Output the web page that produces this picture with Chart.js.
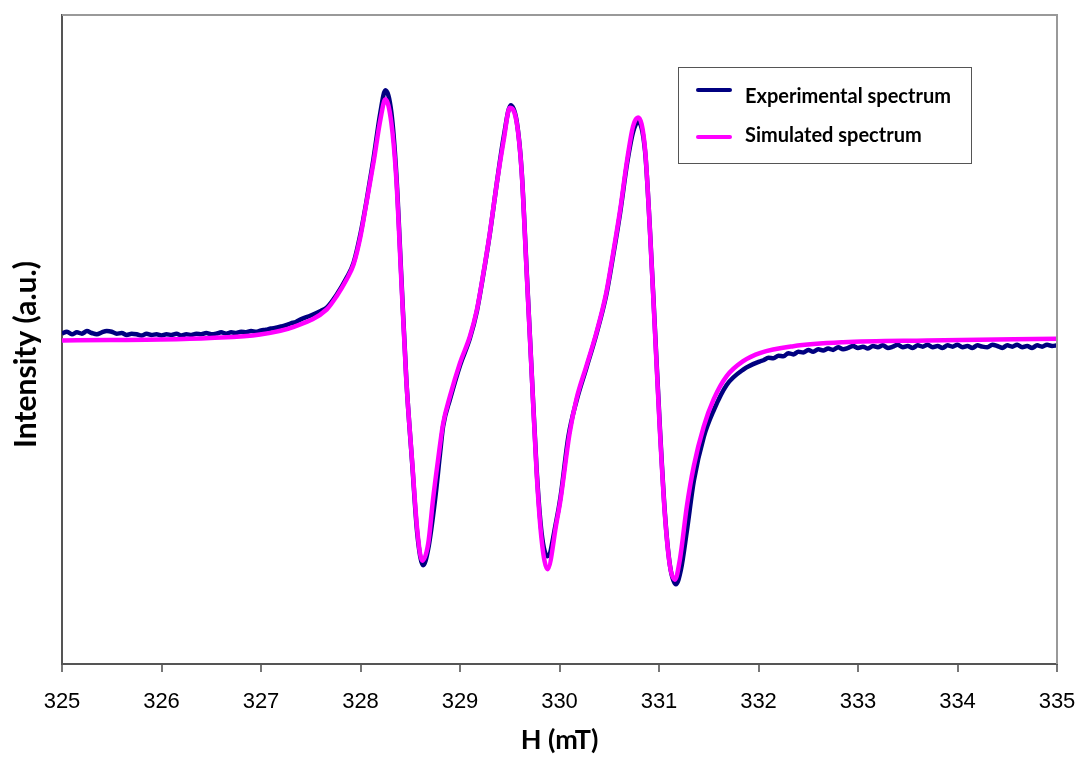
<!DOCTYPE html>
<html>
<head>
<meta charset="utf-8">
<title>EPR spectrum</title>
<script src="https://cdn.jsdelivr.net/npm/chart.js@4.4.1/dist/chart.umd.min.js"></script>
<style>
  body { margin: 0; background: #fff; }
  #wrap { width: 1080px; height: 760px; }
</style>
</head>
<body>
<div id="wrap"><canvas id="epr" width="1080" height="760"></canvas></div>
<script>
// Field values (mT) and intensities (a.u.)
const expField = [
  325.00, 325.05, 325.10, 325.15, 325.20, 325.25, 325.30, 325.35, 325.40, 325.45,
  325.50, 325.55, 325.60, 325.65, 325.70, 325.75, 325.80, 325.85, 325.90, 325.95,
  326.00, 326.05, 326.10, 326.15, 326.20, 326.25, 326.30, 326.35, 326.40, 326.45,
  326.50, 326.55, 326.60, 326.65, 326.70, 326.75, 326.80, 326.85, 326.90, 326.95,
  327.00, 327.05, 327.10, 327.15, 327.20, 327.25, 327.30, 327.35, 327.40, 327.50,
  327.60, 327.66, 327.76, 327.86, 327.93, 328.00, 328.06, 328.13, 328.20, 328.25,
  328.31, 328.36, 328.41, 328.46, 328.52, 328.57, 328.63, 328.68, 328.75, 328.80,
  328.83, 328.90, 329.00, 329.10, 329.17, 329.23, 329.30, 329.37, 329.44, 329.51,
  329.57, 329.62, 329.67, 329.72, 329.77, 329.82, 329.88, 329.97, 330.01, 330.09,
  330.17, 330.27, 330.37, 330.47, 330.54, 330.61, 330.68, 330.74, 330.79, 330.86,
  330.91, 330.96, 331.01, 331.06, 331.11, 331.17, 331.22, 331.28, 331.35, 331.45,
  331.55, 331.68, 331.85, 332.01, 332.05, 332.10, 332.15, 332.20, 332.25, 332.30,
  332.35, 332.40, 332.45, 332.50, 332.55, 332.60, 332.65, 332.70, 332.75, 332.80,
  332.85, 332.90, 332.95, 333.00, 333.05, 333.10, 333.15, 333.20, 333.25, 333.30,
  333.35, 333.40, 333.45, 333.50, 333.55, 333.60, 333.65, 333.70, 333.75, 333.80,
  333.85, 333.90, 333.95, 334.00, 334.05, 334.10, 334.15, 334.20, 334.25, 334.30,
  334.35, 334.40, 334.45, 334.50, 334.55, 334.60, 334.65, 334.70, 334.75, 334.80,
  334.85, 334.90, 334.95, 335.00
];
const expIntensity = [
  0.9, 1.2, 0.8, 1.1, 0.9, 1.3, 1.0, 0.8, 1.1, 1.3,
  1.2, 0.9, 1.0, 0.7, 0.9, 0.8, 0.6, 0.9, 0.7, 0.8,
  0.6, 0.8, 0.7, 0.9, 0.6, 0.8, 0.7, 0.9, 0.8, 1.0,
  0.8, 0.9, 1.1, 0.9, 1.1, 1.0, 1.2, 1.1, 1.3, 1.2,
  1.4, 1.5, 1.7, 1.8, 2.0, 2.2, 2.5, 2.7, 3.1, 3.7,
  4.4, 4.9, 6.9, 9.5, 11.8, 16.3, 21.3, 27.8, 35.0, 38.4,
  35.0, 25.5, 9.8, -6.0, -19.2, -29.8, -34.8, -32.3, -24.6, -17.5,
  -13.4, -9.2, -4.0, 0.2, 4.4, 9.6, 16.3, 24.1, 31.3, 36.1,
  33.6, 25.9, 10.6, -4.9, -20.0, -29.8, -33.4, -27.8, -24.3, -14.9,
  -9.5, -4.4, 0.8, 6.9, 13.0, 19.6, 27.2, 32.0, 33.5, 29.0,
  16.6, 1.4, -13.9, -26.9, -34.8, -37.7, -35.5, -29.5, -21.8, -15.0,
  -10.9, -7.0, -4.6, -3.4, -3.2, -2.8, -2.9, -2.5, -2.6, -2.1,
  -2.3, -1.9, -2.0, -1.6, -1.9, -1.5, -1.7, -1.4, -1.6, -1.2,
  -1.5, -1.3, -1.0, -1.3, -1.1, -1.4, -1.0, -1.2, -0.9, -1.3,
  -1.1, -0.8, -1.2, -1.0, -1.3, -0.9, -1.1, -0.8, -1.2, -1.0,
  -1.3, -0.9, -1.1, -0.8, -1.2, -1.0, -1.3, -0.9, -1.1, -1.2,
  -0.8, -1.0, -1.3, -0.9, -1.1, -0.8, -1.2, -1.0, -1.3, -0.9,
  -1.1, -0.8, -1.0, -0.9
];

const simField = [
  325.00, 325.48, 325.99, 326.49, 326.99, 327.33, 327.66, 327.76, 327.86, 327.93,
  328.00, 328.06, 328.13, 328.20, 328.25, 328.31, 328.36, 328.41, 328.46, 328.52,
  328.57, 328.62, 328.68, 328.73, 328.78, 328.83, 328.90, 329.00, 329.10, 329.17,
  329.23, 329.30, 329.37, 329.44, 329.50, 329.57, 329.62, 329.67, 329.72, 329.77,
  329.82, 329.88, 329.97, 330.01, 330.10, 330.17, 330.27, 330.37, 330.47, 330.54,
  330.61, 330.68, 330.74, 330.79, 330.86, 330.91, 330.96, 331.01, 331.06, 331.11,
  331.16, 331.21, 331.28, 331.35, 331.45, 331.55, 331.68, 331.85, 332.02, 332.35,
  332.85, 333.69, 335.00
];
const simIntensity = [
  -0.15, -0.08, 0.0, 0.23, 0.77, 1.96, 4.62, 6.67, 9.24, 11.56,
  15.9, 21.1, 27.2, 33.9, 37.0, 33.4, 24.7, 9.2, -6.2, -19.0,
  -29.3, -34.1, -31.5, -24.5, -18.5, -13.0, -8.7, -3.6, 0.5, 4.6,
  9.75, 16.4, 24.1, 30.8, 35.7, 33.4, 25.7, 10.3, -5.1, -20.5,
  -30.8, -35.4, -28.2, -24.7, -14.6, -9.2, -4.1, 1.0, 7.2, 13.4,
  20.0, 27.7, 32.9, 34.2, 29.3, 16.4, 1.0, -14.4, -27.2, -34.9,
  -37.0, -33.9, -25.7, -19.5, -13.4, -9.2, -5.65, -3.3, -2.05, -1.03,
  -0.42, -0.15, 0.1
];

const seriesNames = ['Experimental spectrum', 'Simulated spectrum'];
const seriesColors = ['#000080', '#FF00FF'];
const xTicks = [325, 326, 327, 328, 329, 330, 331, 332, 333, 334, 335];

function toPoints(xs, ys) {
  return xs.map((x, i) => ({ x: x, y: ys[i] }));
}

// top/right frame, rotated y title and the boxed legend
const framePlugin = {
  id: 'frame',
  afterDraw(chart) {
    const ctx = chart.ctx;
    const a = chart.chartArea;
    ctx.save();
    ctx.strokeStyle = '#999999';
    ctx.lineWidth = 2;
    ctx.beginPath();
    ctx.moveTo(a.left, a.top);
    ctx.lineTo(a.right, a.top);
    ctx.lineTo(a.right, a.bottom);
    ctx.stroke();

    // y axis title
    ctx.translate(26, a.top + (a.bottom - a.top) / 2 + 15);
    ctx.rotate(-Math.PI / 2);
    ctx.fillStyle = '#000';
    ctx.font = 'bold 30px Lato';
    ctx.textAlign = 'center';
    ctx.textBaseline = 'middle';
    ctx.fillText('Intensity (a.u.)', 0, 0);
    ctx.restore();

    // legend
    const bx = a.left + 616, by = a.top + 52, bw = 293, bh = 96;
    ctx.save();
    ctx.fillStyle = '#fff';
    ctx.fillRect(bx, by, bw, bh);
    ctx.strokeStyle = '#555';
    ctx.lineWidth = 1;
    ctx.strokeRect(bx + 0.5, by + 0.5, bw, bh);
    const rows = [{ line: 23, text: 36 }, { line: 70, text: 75 }];
    chart.data.datasets.forEach((ds, i) => {
      ctx.strokeStyle = ds.borderColor;
      ctx.lineWidth = 4;
      ctx.lineCap = 'round';
      ctx.beginPath();
      ctx.moveTo(bx + 20, by + rows[i].line);
      ctx.lineTo(bx + 52, by + rows[i].line);
      ctx.stroke();
      ctx.fillStyle = '#000';
      ctx.font = 'bold 20px Lato';
      ctx.textBaseline = 'alphabetic';
      ctx.fillText(ds.label, bx + 67, by + rows[i].text);
    });
    ctx.restore();
  }
};

const ctx = document.getElementById('epr').getContext('2d');
new Chart(ctx, {
  type: 'line',
  data: {
    datasets: [
      {
        label: seriesNames[0],
        data: toPoints(expField, expIntensity),
        borderColor: seriesColors[0],
        borderWidth: 4.5,
        pointRadius: 0,
        cubicInterpolationMode: 'monotone',
        order: 2
      },
      {
        label: seriesNames[1],
        data: toPoints(simField, simIntensity),
        borderColor: seriesColors[1],
        borderWidth: 4.5,
        pointRadius: 0,
        cubicInterpolationMode: 'monotone',
        order: 1
      }
    ]
  },
  options: {
    responsive: false,
    animation: false,
    layout: { padding: { top: 15, right: 23, left: 0, bottom: 0 } },
    plugins: { legend: { display: false }, tooltip: { enabled: false } },
    scales: {
      x: {
        type: 'linear',
        min: 325,
        max: 335,
        afterFit(scale) {
          scale.height = 96;
          scale.paddingLeft = 0;
          scale.paddingRight = 0;
        },
        afterBuildTicks(scale) { scale.ticks = xTicks.map(v => ({ value: v })); },
        ticks: {
          color: '#000',
          padding: 17,
          font: { family: 'Liberation Sans, Arial', size: 22 }
        },
        grid: { display: true, drawOnChartArea: false, tickLength: 8, tickColor: '#777', lineWidth: 2 },
        border: { display: true, color: '#555', width: 2 },
        title: {
          display: true,
          text: 'H (mT)',
          color: '#000',
          font: { family: 'Lato', size: 27, weight: 'bold' }
        }
      },
      y: {
        min: -50,
        max: 50,
        afterFit(scale) { scale.width = 62; },
        ticks: { display: false },
        grid: { display: false },
        border: { display: true, color: '#555', width: 2 }
      }
    }
  },
  plugins: [framePlugin]
});
</script>
</body>
</html>
